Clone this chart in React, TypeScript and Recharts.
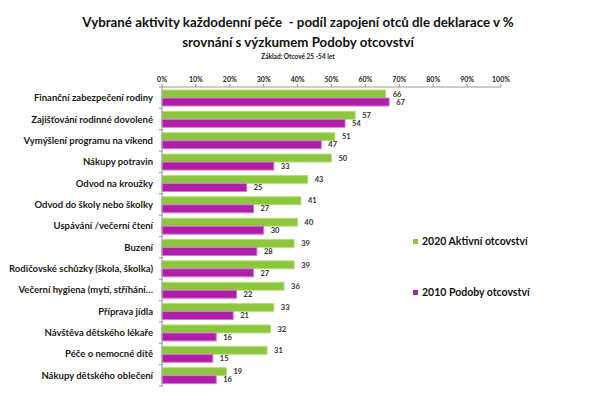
import React from "react"
import { Bar, BarChart, XAxis, YAxis, LabelList } from "recharts"

const categories = [
  "Finanční zabezpečení rodiny",
  "Zajišťování rodinné dovolené",
  "Vymýšlení programu na víkend",
  "Nákupy potravin",
  "Odvod na kroužky",
  "Odvod do školy nebo školky",
  "Uspávání /večerní čtení",
  "Buzení",
  "Rodičovské schůzky (škola, školka)",
  "Večerní hygiena (mytí, stříhání…",
  "Příprava jídla",
  "Návštěva dětského lékaře",
  "Péče o nemocné dítě",
  "Nákupy dětského oblečení",
]
const values2020 = [66, 57, 51, 50, 43, 41, 40, 39, 39, 36, 33, 32, 31, 19]
const values2010 = [67, 54, 47, 33, 25, 27, 30, 28, 27, 22, 21, 16, 15, 16]
const xTicks = [0, 10, 20, 30, 40, 50, 60, 70, 80, 90, 100]

const series2020 = "2020 Aktivní otcovství"
const series2010 = "2010 Podoby otcovství"

const GREEN = "#8cc63e"
const PURPLE = "#ae1ea6"
const FONT = "Lato, 'Open Sans', sans-serif"

const data = categories.map((c, i) => ({ name: c, a: values2020[i], b: values2010[i] }))

const CHART_H = 400
const MARGIN = { top: 67, right: 104, bottom: 14, left: 0 }
const XAXIS_H = 20
const BAND = (CHART_H - MARGIN.top - XAXIS_H - MARGIN.bottom) / categories.length

const CategoryTick = ({ x, y, payload }: any) => (
  <g>
    <line x1={x + 5} x2={x + 9} y1={y - BAND / 2} y2={y - BAND / 2} stroke="#999" />
    {payload.index === categories.length - 1 && (
      <line x1={x + 5} x2={x + 9} y1={y + BAND / 2} y2={y + BAND / 2} stroke="#999" />
    )}
    <text x={x - 1} y={y} dy={3.5} textAnchor="end" fontSize={9.5} fontWeight={700} fill="#1a1a1a" fontFamily={FONT}>
      {payload.value}
    </text>
  </g>
)

const labelStyle = { fontSize: 7.5, fontWeight: 700, fill: "#333", fontFamily: FONT }

export default function App() {
  return (
    <div style={{ position: "absolute", left: 0, top: 0, width: 605, height: 400, background: "#fff", fontFamily: FONT }}>
      <div style={{ position: "absolute", left: 0, width: 596, top: 12, textAlign: "center", fontSize: 13.3, fontWeight: 700, color: "#111", lineHeight: "20px" }}>
        <div>Vybrané aktivity každodenní péče&nbsp; - podíl zapojení otců dle deklarace v %</div>
        <div>srovnání s výzkumem Podoby otcovství</div>
      </div>
      <div style={{ position: "absolute", left: 0, width: 596, top: 53, textAlign: "center", fontSize: 6.5, fontWeight: 700, color: "#222" }}>
        Základ: Otcové 25 -54 let
      </div>
      <BarChart
        width={605}
        height={CHART_H}
        data={data}
        layout="vertical"
        margin={MARGIN}
        barGap={0}
        barSize={8}
      >
        <XAxis
          type="number"
          orientation="top"
          domain={[0, 100]}
          ticks={xTicks}
          height={XAXIS_H}
          tickFormatter={(v) => `${v}%`}
          tick={{ fontSize: 7, fontWeight: 700, fill: "#222", fontFamily: FONT }}
          axisLine={{ stroke: "#999" }}
          tickLine={{ stroke: "#999" }}
          tickSize={3}
        />
        <YAxis
          type="category"
          dataKey="name"
          width={162}
          tick={<CategoryTick />}
          axisLine={{ stroke: "#999" }}
          tickLine={false}
          interval={0}
        />
        <Bar dataKey="a" name={series2020} fill={GREEN} stroke="#b8e07e" strokeWidth={1} isAnimationActive={false}>
          <LabelList dataKey="a" position="right" offset={7} style={labelStyle} />
        </Bar>
        <Bar dataKey="b" name={series2010} fill={PURPLE} stroke="#d778cf" strokeWidth={1} isAnimationActive={false}>
          <LabelList dataKey="b" position="right" offset={7} style={labelStyle} />
        </Bar>
      </BarChart>
      <div style={{ position: "absolute", left: 413, top: 234, fontSize: 10.5, fontWeight: 700, color: "#111" }}>
        <div style={{ display: "flex", alignItems: "center", height: 14 }}>
          <span style={{ width: 5, height: 5, background: GREEN, marginRight: 4 }} />
          {series2020}
        </div>
        <div style={{ display: "flex", alignItems: "center", height: 14, marginTop: 37 }}>
          <span style={{ width: 5, height: 5, background: PURPLE, marginRight: 4 }} />
          {series2010}
        </div>
      </div>
    </div>
  )
}
